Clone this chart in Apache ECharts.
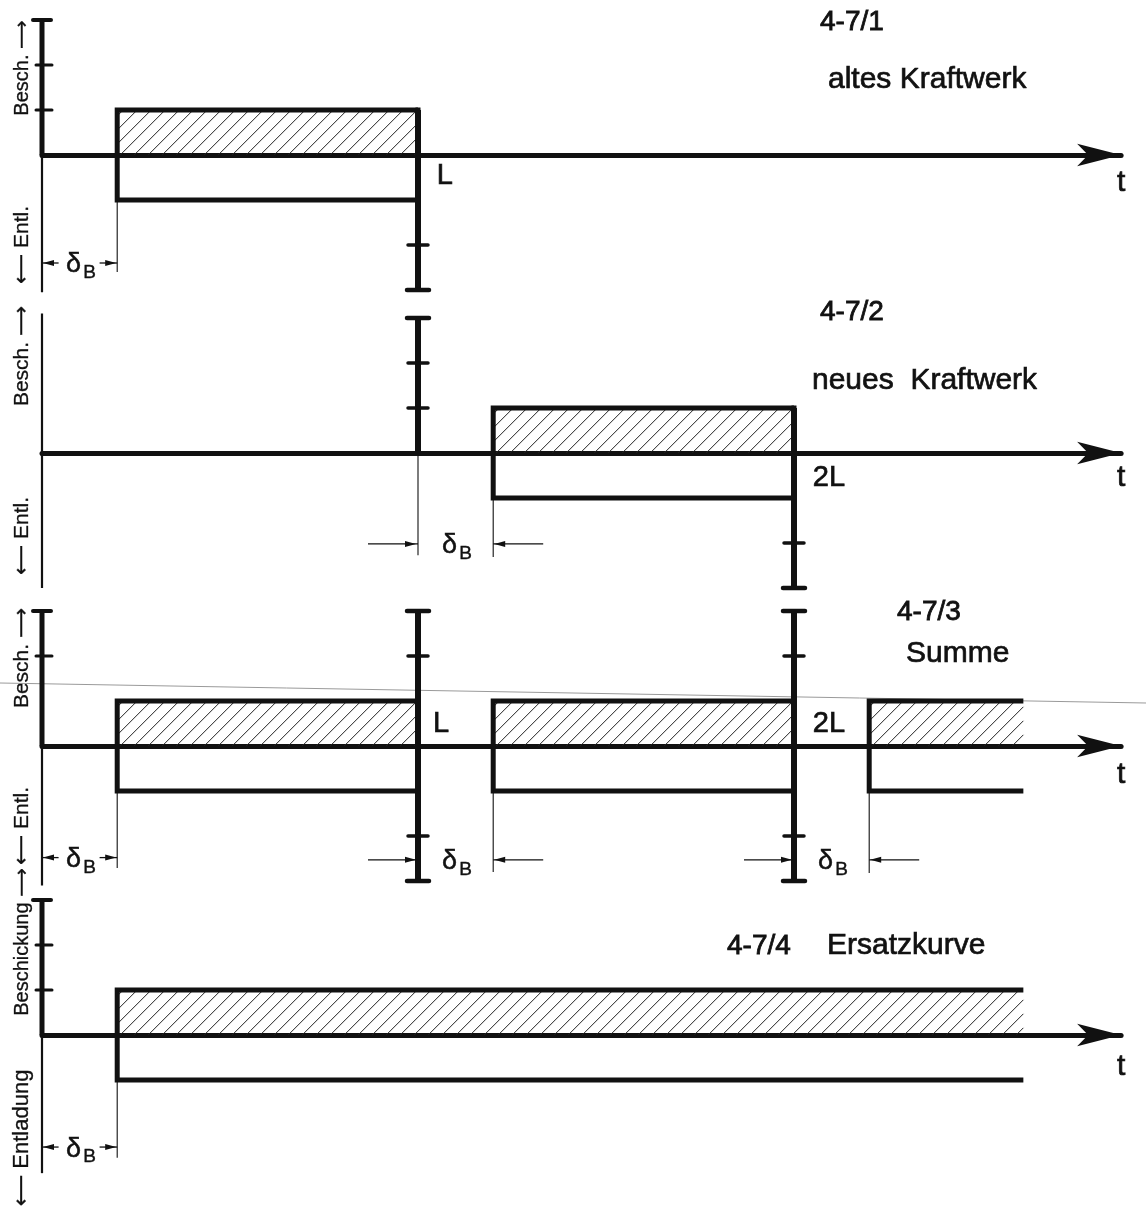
<!DOCTYPE html>
<html>
<head>
<meta charset="utf-8">
<script src="https://cdn.jsdelivr.net/npm/echarts@6/dist/echarts.min.js"></script>
<style>html,body{margin:0;padding:0;background:#fff}#c{width:1146px;height:1213px}</style>
</head>
<body>
<div id="c"></div>
<script>
// ---------------- data (time in units of L, level in units of the block height) ----------------
const panelIds = ['4-7/1', '4-7/2', '4-7/3', '4-7/4'];
const panelNames = ['altes Kraftwerk', 'neues  Kraftwerk', 'Summe', 'Ersatzkurve'];
const axisLabelsUp = ['Besch. \u27F6', 'Besch. \u27F6', 'Besch. \u27F6', 'Beschickung \u27F6'];
const axisLabelsDown = ['\u27F5 Entl.', '\u27F5 Entl.', '\u27F5 Entl.', '\u27F5 Entladung'];
const timeMax = 2.87;
const levelMin = -3, levelMax = 3;
const chargeLevel = 1;      // Beschickung
const dischargeLevel = -1;  // Entladung

// blocks: [start, end, closedRightEdge]
const blocks1 = [[0.2, 1.0, 1]];
const blocks2 = [[1.2, 2.0, 1]];
const blocks3 = [[0.2, 1.0, 1], [1.2, 2.0, 1], [2.2, 2.61, 0]];
const blocks4 = [[0.2, 2.61, 0]];

// scale posts at L / 2L: [t, from, to]
const posts1 = [[1, -3, 1]];
const posts2 = [[1, 0, 3], [2, -3, 1]];
const posts3 = [[1, -3, 3], [2, -3, 3]];
const posts4 = [];
const postTicks1 = [[-2]];
const postTicks2 = [[1, 2], [-2]];
const postTicks3 = [[-2, 2], [-2, 2]];
const postTicks4 = [];

// level axis: [thickFrom, thickTo, thinFrom, thinTo]
const levelAxis1 = [[0, 3, -3.05, 0]];
const levelAxis2 = [[0, 0, -3, 3.1]];
const levelAxis3 = [[0, 3, -3.1, 0]];
const levelAxis4 = [[0, 3, -3.07, 0]];
const levelTicks = [[1, 2], [], [2], [1, 2]];

// delta_B dimensions: [t0, t1, level, inside(1)/outside(0)]
const dims1 = [[0, 0.2, -2.4, 1]];
const dims2 = [[1.0, 1.2, -2.02, 0]];
const dims3 = [[0, 0.2, -2.48, 1], [1.0, 1.2, -2.53, 0], [2.0, 2.2, -2.53, 0]];
const dims4 = [[0, 0.2, -2.49, 1]];

// extension lines: [t, from, to]
const ext1 = [[0.2, -1, -2.6]];
const ext2 = [[1.0, 0, -2.27], [1.2, -1, -2.31]];
const ext3 = [[0.2, -1, -2.71], [1.2, -1, -2.8], [2.2, -1, -2.82]];
const ext4 = [[0.2, -1, -2.73]];

// point labels: [t, level, text]
const marks1 = [[1.05, -0.47, 'L'], [timeMax, -0.62, 't']];
const marks2 = [[2.05, -0.56, '2L'], [timeMax, -0.56, 't']];
const marks3 = [[1.04, 0.49, 'L'], [2.05, 0.49, '2L'], [timeMax, -0.64, 't']];
const marks4 = [[timeMax, -0.7, 't']];

// ---------------- layout / style ----------------
const blocks = [blocks1, blocks2, blocks3, blocks4];
const posts = [posts1, posts2, posts3, posts4];
const postTicks = [postTicks1, postTicks2, postTicks3, postTicks4];
const levelAxes = [levelAxis1, levelAxis2, levelAxis3, levelAxis4];
const dims = [dims1, dims2, dims3, dims4];
const exts = [ext1, ext2, ext3, ext4];
const marks = [marks1, marks2, marks3, marks4];

const FONT = "'Liberation Sans','DejaVu Sans',sans-serif";
const INK = '#111';
const gridTops = [20, 318, 611, 900];
const gridH = 270, gridLeft = 42, unitPx = 376;

function renderBlocks(list) {
  return function (params, api) {
    const b = list[params.dataIndex];
    const pTop = api.coord([b[0], chargeLevel]);
    const pEndTop = api.coord([b[1], chargeLevel]);
    const pZero = api.coord([b[0], 0]);
    const pBot = api.coord([b[0], dischargeLevel]);
    const pEndBot = api.coord([b[1], dischargeLevel]);
    const x0 = pTop[0], x1 = pEndTop[0], yT = pTop[1], yB = pZero[1];
    const h = yB - yT;
    const children = [];
    const step = 14;
    for (let c = x0 - h + 6; c < x1 - 2; c += step) {
      let sx = c, sy = yB, ex = c + h, ey = yT;
      if (sx < x0) { sy = yB - (x0 - sx); sx = x0; }
      if (ex > x1) { ey = yB - (x1 - c); ex = x1; }
      children.push({ type: 'line', shape: { x1: sx, y1: sy, x2: ex, y2: ey },
        style: { stroke: '#222', lineWidth: 1 } });
    }
    children.push({ type: 'polyline', shape: { points: [pEndTop, pTop, pBot, pEndBot] },
      style: { stroke: INK, lineWidth: 5, fill: null, lineJoin: 'miter' } });
    if (b[2]) {
      children.push({ type: 'line', shape: { x1: x1, y1: yT, x2: x1, y2: pEndBot[1] },
        style: { stroke: INK, lineWidth: 5, lineCap: 'square' } });
    }
    return { type: 'group', children };
  };
}

function hline(x, y, half, w) {
  return { type: 'line', shape: { x1: x - half, y1: y, x2: x + half, y2: y },
    style: { stroke: INK, lineWidth: w, lineCap: 'round' } };
}

function renderPosts(list, ticks) {
  return function (params, api) {
    const p = list[params.dataIndex];
    const a = api.coord([p[0], p[1]]);
    const b = api.coord([p[0], p[2]]);
    const children = [{ type: 'line', shape: { x1: a[0], y1: a[1], x2: b[0], y2: b[1] },
      style: { stroke: INK, lineWidth: 6 } }];
    (ticks[params.dataIndex] || []).forEach(function (t) {
      const q = api.coord([p[0], t]);
      children.push(hline(q[0], q[1], 10, 3.5));
    });
    [p[1], p[2]].forEach(function (lv) {
      if (Math.abs(lv) >= 3) {
        const q = api.coord([p[0], lv]);
        children.push(hline(q[0], q[1], 11, 4.5));
      }
    });
    return { type: 'group', children };
  };
}

function renderLevelAxis(list, ticks) {
  return function (params, api) {
    const d = list[params.dataIndex];
    const children = [];
    const t0 = api.coord([0, d[2]]), t1 = api.coord([0, d[3]]);
    children.push({ type: 'line', shape: { x1: t0[0], y1: t0[1], x2: t1[0], y2: t1[1] },
      style: { stroke: INK, lineWidth: 2.2 } });
    if (d[1] > d[0]) {
      const a = api.coord([0, d[0]]), b = api.coord([0, d[1]]);
      children.push({ type: 'line', shape: { x1: a[0], y1: a[1], x2: b[0], y2: b[1] },
        style: { stroke: INK, lineWidth: 5 } });
      children.push(hline(b[0], b[1], 9, 4));
    }
    ticks.forEach(function (t) {
      const q = api.coord([0, t]);
      children.push(hline(q[0] + 2, q[1], 8, 3));
    });
    return { type: 'group', children };
  };
}

function arrowHead(tx, ty, dir) {
  return { type: 'polygon', shape: { points: [[tx, ty], [tx - dir * 11, ty - 3], [tx - dir * 11, ty + 3]] },
    style: { fill: INK } };
}

function deltaText(cx, y) {
  return [
    { type: 'text', x: cx - 6, y: y, style: { text: '\u03B4', font: '27px ' + FONT, fill: INK,
      stroke: INK, lineWidth: 0.5,
      align: 'center', verticalAlign: 'middle', textAlign: 'center', textVerticalAlign: 'middle' } },
    { type: 'text', x: cx + 10, y: y + 8, style: { text: 'B', font: '19px ' + FONT, fill: INK,
      stroke: INK, lineWidth: 0.4,
      align: 'center', verticalAlign: 'middle', textAlign: 'center', textVerticalAlign: 'middle' } }
  ];
}

function renderDims(list) {
  return function (params, api) {
    const d = list[params.dataIndex];
    const a = api.coord([d[0], d[2]]), b = api.coord([d[1], d[2]]);
    const y = a[1], cx = (a[0] + b[0]) / 2;
    const thin = { stroke: INK, lineWidth: 1.3 };
    let children = [];
    if (d[3]) {
      children.push({ type: 'line', shape: { x1: a[0], y1: y, x2: cx - 21, y2: y }, style: thin });
      children.push({ type: 'line', shape: { x1: cx + 20, y1: y, x2: b[0], y2: y }, style: thin });
      children.push(arrowHead(a[0] + 1, y, -1));
      children.push(arrowHead(b[0] - 1, y, 1));
    } else {
      children.push({ type: 'line', shape: { x1: a[0] - 50, y1: y, x2: a[0], y2: y }, style: thin });
      children.push({ type: 'line', shape: { x1: b[0], y1: y, x2: b[0] + 50, y2: y }, style: thin });
      children.push(arrowHead(a[0] - 2, y, 1));
      children.push(arrowHead(b[0] + 1, y, -1));
    }
    children = children.concat(deltaText(cx, y + 2));
    return { type: 'group', children };
  };
}

function renderExt(list) {
  return function (params, api) {
    const e = list[params.dataIndex];
    const a = api.coord([e[0], e[1]]), b = api.coord([e[0], e[2]]);
    return { type: 'line', shape: { x1: a[0], y1: a[1], x2: b[0], y2: b[1] },
      style: { stroke: INK, lineWidth: 1.1 } };
  };
}

function renderMarks(list) {
  return function (params, api) {
    const m = list[params.dataIndex];
    const p = api.coord([m[0], m[1]]);
    const isT = m[2] === 't';
    return { type: 'text', x: p[0], y: p[1], style: { text: m[2], font: (isT ? '30px ' : '29px ') + FONT,
      fill: INK, stroke: INK, lineWidth: 0.7, align: isT ? 'center' : 'left', verticalAlign: 'middle',
      textAlign: isT ? 'center' : 'left', textVerticalAlign: 'middle' } };
  };
}

const grids = [], xAxes = [], yAxes = [], series = [];
for (let i = 0; i < 4; i++) {
  grids.push({ left: gridLeft, top: gridTops[i], width: timeMax * unitPx, height: gridH });
  xAxes.push({
    type: 'value', gridIndex: i, min: 0, max: timeMax,
    axisLine: { show: true, onZero: true, symbol: ['none', 'arrow'], symbolSize: [17, 44],
      lineStyle: { color: INK, width: 5 } },
    axisTick: { show: false }, axisLabel: { show: false }, splitLine: { show: false }
  });
  yAxes.push({
    type: 'value', gridIndex: i, min: levelMin, max: levelMax,
    axisLine: { show: false }, axisTick: { show: false }, axisLabel: { show: false }, splitLine: { show: false }
  });
  const common = { type: 'custom', xAxisIndex: i, yAxisIndex: i, silent: true, animation: false, clip: false };
  series.push(Object.assign({}, common, { name: 'ext' + i, data: exts[i], renderItem: renderExt(exts[i]), z: 2 }));
  series.push(Object.assign({}, common, { name: 'blocks' + i, data: blocks[i], renderItem: renderBlocks(blocks[i]), z: 3 }));
  series.push(Object.assign({}, common, { name: 'levelAxis' + i, data: levelAxes[i], renderItem: renderLevelAxis(levelAxes[i], levelTicks[i]), z: 4 }));
  if (posts[i].length) series.push(Object.assign({}, common, { name: 'posts' + i, data: posts[i], renderItem: renderPosts(posts[i], postTicks[i]), z: 4 }));
  series.push(Object.assign({}, common, { name: 'dims' + i, data: dims[i], renderItem: renderDims(dims[i]), z: 4 }));
  series.push(Object.assign({}, common, { name: 'marks' + i, data: marks[i].map(function (m) { return [m[0], m[1]]; }), renderItem: renderMarks(marks[i]), z: 5 }));
}

// panel captions and rotated level-axis names (layout only)
const idPos = [[820, 22], [820, 312], [897, 612], [727, 946]];
const namePos = [[828, 80], [812, 381], [906, 654], [827, 946]];
const upPos = [[22, 68], [22, 356], [22, 658], [22, 942]];
const downPos = [[22, 245], [22, 536], [22, 826], [22, 1138]];
const upSize = [20, 21, 21, 20];
const downSize = [21, 21, 21, 22];

const graphics = [];
function txt(x, y, s, size, align, rot, sw) {
  graphics.push({ type: 'text', x: x, y: y, rotation: rot || 0, silent: true,
    style: { text: s, font: size + 'px ' + FONT, fill: INK, stroke: INK, lineWidth: sw || 0,
      align: align, verticalAlign: 'middle', textAlign: align, textVerticalAlign: 'middle' } });
}
for (let i = 0; i < 4; i++) {
  txt(idPos[i][0], idPos[i][1], panelIds[i], 28, 'left', 0, 0.8);
  txt(namePos[i][0], namePos[i][1], panelNames[i], 30, 'left', 0, 0.7);
  txt(upPos[i][0], upPos[i][1], axisLabelsUp[i], upSize[i], 'center', Math.PI / 2, 0.3);
  txt(downPos[i][0], downPos[i][1], axisLabelsDown[i], downSize[i], 'center', Math.PI / 2, 0.3);
}
// faint scan line crossing the third panel
graphics.push({ type: 'line', silent: true, shape: { x1: 0, y1: 683, x2: 1146, y2: 703 },
  style: { stroke: '#9a9a9a', lineWidth: 1 }, z: 1 });

const chart = echarts.init(document.getElementById('c'), null, { renderer: 'canvas' });
chart.setOption({
  backgroundColor: '#fff',
  animation: false,
  grid: grids,
  xAxis: xAxes,
  yAxis: yAxes,
  series: series,
  graphic: graphics
});
</script>
</body>
</html>
